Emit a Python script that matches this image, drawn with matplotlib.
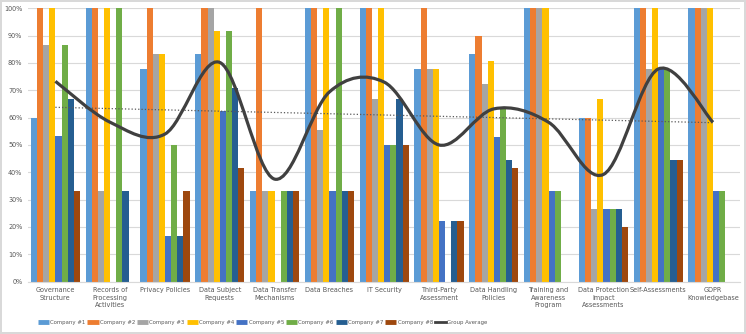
import matplotlib
matplotlib.use("Agg")
import matplotlib.pyplot as plt
import numpy as np
from matplotlib.path import Path
from matplotlib.patches import PathPatch
from matplotlib.lines import Line2D

plt.rcParams['font.family'] = ['DejaVu Sans']
plt.rcParams['font.stretch'] = 'condensed'

categories = ["Governance\nStructure", "Records of\nProcessing\nActivities", "Privacy Policies",
              "Data Subject\nRequests", "Data Transfer\nMechanisms", "Data Breaches", "IT Security",
              "Third-Party\nAssessment", "Data Handling\nPolicies", "Training and\nAwareness\nProgram",
              "Data Protection\nImpact\nAssessments", "Self-Assessments", "GDPR\nKnowledgebase"]

company_1 = [60, 100, 77.8, 83.3, 33.3, 100, 100, 77.8, 83.3, 100, 60, 100, 100]
company_2 = [100, 100, 100, 100, 100, 100, 100, 100, 90, 100, 60, 100, 100]
company_3 = [86.7, 33.3, 83.3, 100, 33.3, 55.6, 66.7, 77.8, 72.2, 100, 26.7, 77.8, 100]
company_4 = [100, 100, 83.3, 91.7, 33.3, 100, 100, 77.8, 80.6, 100, 66.7, 100, 100]
company_5 = [53.3, 0, 16.7, 62.5, 0, 33.3, 50, 22.2, 52.8, 33.3, 26.7, 77.8, 33.3]
company_6 = [86.7, 100, 50, 91.7, 33.3, 100, 50, 0, 63.9, 33.3, 26.7, 77.8, 33.3]
company_7 = [66.7, 33.3, 16.7, 70.8, 33.3, 33.3, 66.7, 22.2, 44.4, 0, 26.7, 44.4, 0]
company_8 = [33.3, 0, 33.3, 41.7, 33.3, 33.3, 50, 22.2, 41.7, 0, 20, 44.4, 0]
group_average = [73.3, 58.3, 54, 80.2, 37.5, 69.4, 73, 50, 63.2, 58.3, 39.2, 77.8, 58.3]

series = [company_1, company_2, company_3, company_4, company_5, company_6, company_7, company_8]
names = ["Company #%d" % (i + 1) for i in range(8)]
colors = ['#5B9BD5', '#ED7D31', '#A5A5A5', '#FFC000', '#4472C4', '#70AD47', '#255E91', '#9E480E']

fig = plt.figure(figsize=(7.46, 3.34), dpi=100)
fig.patch.set_edgecolor('#D9D9D9')
fig.patch.set_linewidth(1.5)
ax = fig.add_axes([0.0375, 0.157, 0.955, 0.818])

n = len(categories)
x = np.arange(n)
w = 0.112
for i, vals in enumerate(series):
    ax.bar(x + (i - 3.5) * w, vals, width=w, color=colors[i], linewidth=0, zorder=2)

# smoothed group average line (cubic bezier through the points)
pts = np.column_stack([x, group_average]).astype(float)
verts = [tuple(pts[0])]
codes = [Path.MOVETO]
for i in range(n - 1):
    p0 = pts[i - 1] if i > 0 else pts[i]
    p1 = pts[i]
    p2 = pts[i + 1]
    p3 = pts[i + 2] if i + 2 < n else pts[i + 1]
    c1 = p1 + (p2 - p0) / 6.0
    c2 = p2 - (p3 - p1) / 6.0
    verts += [tuple(c1), tuple(c2), tuple(p2)]
    codes += [Path.CURVE4] * 3
ax.add_patch(PathPatch(Path(verts, codes), facecolor='none', edgecolor='#404040', lw=2.3, zorder=4))

# linear trendline of the group average
k, b = np.polyfit(x, group_average, 1)
ax.plot(x, k * x + b, color='#595959', lw=0.9, ls=':', zorder=3)

ax.set_xlim(-0.5, n - 0.5)
ax.set_ylim(0, 100)
ax.set_yticks(np.arange(0, 101, 10))
ax.set_yticklabels(["%d%%" % v for v in range(0, 101, 10)], fontsize=5.2, color='#595959')
ax.set_xticks(x)
ax.set_xticklabels(categories, fontsize=5.2, color='#595959', linespacing=1.3, va='top')
ax.tick_params(length=0, pad=4)
ax.grid(axis='y', color='#D9D9D9', lw=0.8, zorder=0)
ax.set_axisbelow(True)
for s in ['top', 'right', 'left']:
    ax.spines[s].set_visible(False)
ax.spines['bottom'].set_color('#D9D9D9')

handles = [Line2D([0], [0], color=c, lw=3.5, solid_capstyle='butt') for c in colors]
handles.append(Line2D([0], [0], color='#404040', lw=2))
leg = fig.legend(handles, names + ["Group Average"], loc='center', bbox_to_anchor=(0.352, 0.035),
                 ncol=9, frameon=False, fontsize=4.3, handlelength=1.9, handletextpad=0.2,
                 columnspacing=0.3, labelcolor='#595959')

fig.savefig("out.png", dpi=100)
